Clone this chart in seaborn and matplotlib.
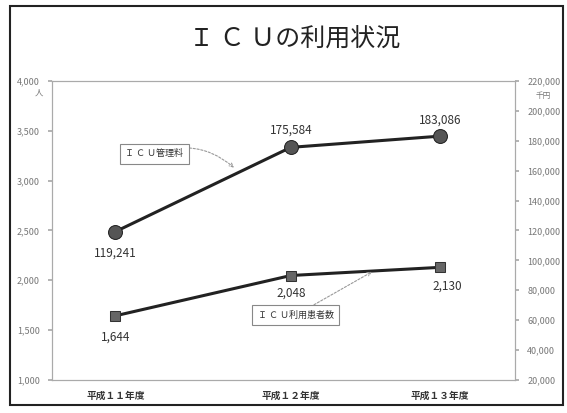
import matplotlib
matplotlib.use("Agg")
import matplotlib.pyplot as plt
import seaborn as sns
import pandas as pd
from matplotlib.patches import Rectangle

sns.set_theme(style="white")
plt.rcParams['font.family'] = ['Noto Sans CJK JP', 'DejaVu Sans']

years = ["平成１１年度", "平成１２年度", "平成１３年度"]
patients = [1644, 2048, 2130]          # 人 (left axis)
fees = [119241, 175584, 183086]        # 千円 (right axis)
left_ticks = [1000, 1500, 2000, 2500, 3000, 3500, 4000]
right_ticks = [20000, 40000, 60000, 80000, 100000, 120000, 140000, 160000, 180000, 200000, 220000]

xpos = [0, 1.08, 2.0]
df_p = pd.DataFrame({"x": xpos, "v": patients})
df_f = pd.DataFrame({"x": xpos, "v": fees})

fig = plt.figure(figsize=(5.67, 4.13), dpi=100)
ax = fig.add_axes([0.092, 0.080, 0.816, 0.724])
ax2 = ax.twinx()

sns.lineplot(data=df_p, x="x", y="v", ax=ax, color="#222222", lw=2.2,
             marker="s", markersize=7, markerfacecolor="#666666",
             markeredgecolor="#333333")
sns.lineplot(data=df_f, x="x", y="v", ax=ax2, color="#222222", lw=2.2,
             marker="o", markersize=10, markerfacecolor="#555555",
             markeredgecolor="#222222")

ax.set_xlim(-0.39, 2.46)
ax.set_ylim(1000, 4000)
ax2.set_ylim(20000, 220000)
ax.set_yticks(left_ticks)
ax.set_yticklabels([f"{t:,}" for t in left_ticks])
ax2.set_yticks(right_ticks)
ax2.set_yticklabels([f"{t:,}" for t in right_ticks])
ax.set_xticks(xpos)
ax.set_xticklabels(years, fontsize=7, fontweight="bold", color="#333333")
ax.set_xlabel("")
ax.set_ylabel("")
ax2.set_ylabel("")
for a in (ax, ax2):
    a.tick_params(axis="y", labelsize=6.5, labelcolor="#777777", length=3,
                  color="#aaaaaa", direction="out", pad=6)
    for s in a.spines.values():
        s.set_color("#aaaaaa")
        s.set_linewidth(0.8)
ax.tick_params(axis="x", length=0, pad=8)

# units
fig.text(0.068, 1 - 93 / 413, "人", fontsize=6, color="#777777", ha="center", va="center")
fig.text(0.958, 1 - 96 / 413, "千円", fontsize=5.5, color="#777777", ha="center", va="center")

# data labels
lab_kw = dict(fontsize=8.5, color="#333333", ha="center")
ax2.annotate(f"{fees[0]:,}", (xpos[0], fees[0]), xytext=(0, -18), textcoords="offset points", **lab_kw)
ax2.annotate(f"{fees[1]:,}", (xpos[1], fees[1]), xytext=(0, 10), textcoords="offset points", **lab_kw)
ax2.annotate(f"{fees[2]:,}", (xpos[2], fees[2]), xytext=(0, 9), textcoords="offset points", **lab_kw)
ax.annotate(f"{patients[0]:,}", (xpos[0], patients[0]), xytext=(0, -18), textcoords="offset points", **lab_kw)
ax.annotate(f"{patients[1]:,}", (xpos[1], patients[1]), xytext=(0, -15), textcoords="offset points", **lab_kw)
ax.annotate(f"{patients[2]:,}", (xpos[2], patients[2]), xytext=(5, -16), textcoords="offset points", **lab_kw)

# callout boxes
box = dict(boxstyle="square,pad=0.6", fc="white", ec="#888888", lw=0.8)
ax.annotate("Ｉ Ｃ Ｕ管理料", xy=(0.73, 3130), xytext=(0.24, 3268), textcoords="data",
            fontsize=6.5, color="#333333", ha="center", va="center", bbox=box,
            arrowprops=dict(arrowstyle="->", color="#999999", lw=0.8, ls=(0, (2, 1.5)),
                            connectionstyle="arc3,rad=-0.3", shrinkA=0, shrinkB=0))
ax.annotate("Ｉ Ｃ Ｕ利用患者数", xy=(1.58, 2085), xytext=(1.11, 1650), textcoords="data",
            fontsize=6.5, color="#333333", ha="center", va="center", bbox=box,
            arrowprops=dict(arrowstyle="->", color="#999999", lw=0.8, ls=(0, (2, 1.5)),
                            connectionstyle="arc3,rad=0.0", shrinkA=0, shrinkB=0))

fig.text(0.52, 0.905, "Ｉ Ｃ Ｕの利用状況", fontsize=18, ha="center", va="center", color="#222222")

# page border
fig.patches.append(Rectangle((0.018, 0.02), 0.975, 0.965, transform=fig.transFigure,
                             fill=False, ec="#222222", lw=1.5))

fig.savefig("out.png", dpi=100)
